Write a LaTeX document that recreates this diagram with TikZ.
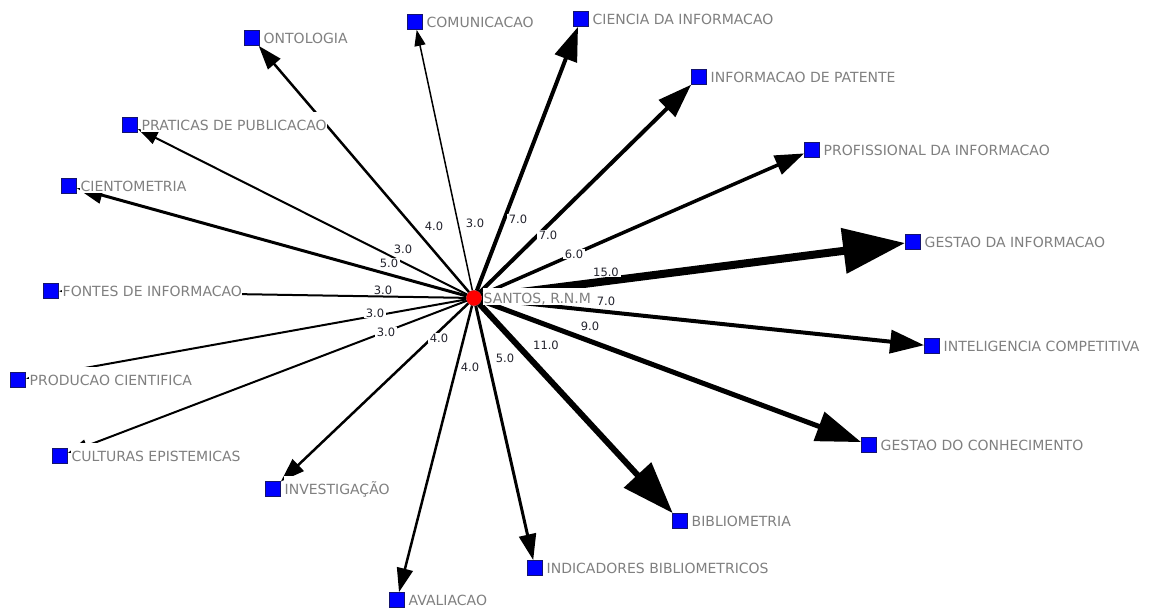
\documentclass[tikz,border=0pt]{standalone}
\usepackage{fontspec}
\setmainfont{DejaVu Sans}
\usetikzlibrary{arrows.meta}
\pgfdeclarelayer{bg}
\pgfdeclarelayer{fg}
\pgfsetlayers{bg,main,fg}
\definecolor{labgray}{RGB}{128,128,128}
\definecolor{wcol}{RGB}{35,35,45}
\definecolor{sqborder}{RGB}{20,20,110}
\tikzset{
  sq/.style={rectangle, draw=sqborder, fill=blue, minimum size=15pt, inner sep=0pt, line width=0.7pt},
  hub/.style={circle, fill=red, draw=red!80!black, line width=0.4pt, minimum size=15pt, inner sep=0pt},
  lab/.style={anchor=base west, text=labgray, fill=white, inner xsep=0.5pt, inner ysep=0pt,
    text height=18pt, text depth=2pt, font=\fontsize{14pt}{16pt}\selectfont},
  hublab/.style={lab, text height=15pt},
  wl/.style={text=wcol, fill=white, inner xsep=2pt, inner ysep=1pt, font=\fontsize{11.5pt}{13pt}\selectfont},
  wa/.style={line width=1.5pt, -{Triangle[length=16pt,width=11pt]}},
  wb/.style={line width=2pt, -{Triangle[length=20pt,width=13pt]}},
  wc/.style={line width=2.5pt, -{Triangle[length=24pt,width=16pt]}},
  wd/.style={line width=3pt, -{Triangle[length=26pt,width=17pt]}},
  we/.style={line width=3.5pt, -{Triangle[length=29pt,width=20pt]}},
  wf/.style={line width=4pt, -{Triangle[length=34pt,width=23pt]}},
  wg/.style={line width=5pt, -{Triangle[length=45pt,width=30pt]}},
  wh/.style={line width=6pt, -{Triangle[length=52pt,width=36pt]}},
  wi/.style={line width=8pt, -{Triangle[length=62pt,width=44pt]}},
}
\begin{document}
\begin{tikzpicture}[x=1pt, y=-1pt]
\useasboundingbox (0,0) rectangle (1159,608);

\begin{pgfonlayer}{fg}
\node[hub] (c) at (474,298) {};
\node[sq] (ont) at (252,38) {};
\node[sq] (com) at (415,22) {};
\node[sq] (cie) at (581,19) {};
\node[sq] (pat) at (699,77) {};
\node[sq] (pro) at (812,150) {};
\node[sq] (gdi) at (913,242) {};
\node[sq] (int) at (932,346) {};
\node[sq] (gdc) at (869,445) {};
\node[sq] (bib) at (680,521) {};
\node[sq] (ind) at (535,568) {};
\node[sq] (ava) at (397,600) {};
\node[sq] (inv) at (273,489) {};
\node[sq] (cul) at (60,456) {};
\node[sq] (pc) at (18,380) {};
\node[sq] (fon) at (51,291) {};
\node[sq] (cien) at (69,186) {};
\node[sq] (pra) at (130,125) {};
\end{pgfonlayer}

\begin{pgfonlayer}{bg}
\fill[white] (0,0) rectangle (1159,608);
\draw[wc] (c) -- (ont);
\draw[wa] (c) -- (com);
\draw[wf] (c) -- (cie);
\draw[wf] (c) -- (pat);
\draw[we] (c) -- (pro);
\draw[wi] (c) -- (gdi);
\draw[wf] (c) -- (int);
\draw[wg] (c) -- (gdc);
\draw[wh] (c) -- (bib);
\draw[wd] (c) -- (ind);
\draw[wc] (c) -- (ava);
\draw[wc] (c) -- (inv);
\draw[wb] (c) -- (cul);
\draw[wb] (c) -- (pc);
\draw[wb] (c) -- (fon);
\draw[wd] (c) -- (cien);
\draw[wb] (c) -- (pra);
\end{pgfonlayer}

% edge weights
\node[wl] (eont) at (434,226) {4.0};
\node[wl] (ecom) at (475,223) {3.0};
\node[wl] (ecie) at (518,219) {7.0};
\node[wl] (epat) at (548,235) {7.0};
\node[wl] (epro) at (574,254) {6.0};
\node[wl] (egdi) at (606,272) {15.0};
\node[wl] (eint) at (606,301) {7.0};
\node[wl] (egdc) at (590,326) {9.0};
\node[wl] (ebib) at (546,345) {11.0};
\node[wl] (eind) at (505,358) {5.0};
\node[wl] (eava) at (470,367) {4.0};
\node[wl] (einv) at (439,338) {4.0};
\node[wl] (ecul) at (386,332) {3.0};
\node[wl] (epc) at (375,313) {3.0};
\node[wl] (efon) at (383,290) {3.0};
\node[wl] (ecien) at (389,263) {5.0};
\node[wl] (epra) at (403,249) {3.0};

% node labels
\node[hublab] (cL) at ([shift={(9,5)}]c.center) {SANTOS, R.N.M};
\node[lab] (ontL) at ([shift={(11,5)}]ont.center) {ONTOLOGIA};
\node[lab] (comL) at ([shift={(11,5)}]com.center) {COMUNICACAO};
\node[lab] (cieL) at ([shift={(11,5)}]cie.center) {CIENCIA DA INFORMACAO};
\node[lab] (patL) at ([shift={(11,5)}]pat.center) {INFORMACAO DE PATENTE};
\node[lab] (proL) at ([shift={(11,5)}]pro.center) {PROFISSIONAL DA INFORMACAO};
\node[lab] (gdiL) at ([shift={(11,5)}]gdi.center) {GESTAO DA INFORMACAO};
\node[lab] (intL) at ([shift={(11,5)}]int.center) {INTELIGENCIA COMPETITIVA};
\node[lab] (gdcL) at ([shift={(11,5)}]gdc.center) {GESTAO DO CONHECIMENTO};
\node[lab] (bibL) at ([shift={(11,5)}]bib.center) {BIBLIOMETRIA};
\node[lab] (indL) at ([shift={(11,5)}]ind.center) {INDICADORES BIBLIOMETRICOS};
\node[lab] (avaL) at ([shift={(11,5)}]ava.center) {AVALIACAO};
\node[lab] (invL) at ([shift={(11,5)}]inv.center) {INVESTIGAÇÃO};
\node[lab] (culL) at ([shift={(11,5)}]cul.center) {CULTURAS EPISTEMICAS};
\node[lab] (pcL) at ([shift={(11,5)}]pc.center) {PRODUCAO CIENTIFICA};
\node[lab] (fonL) at ([shift={(11,5)}]fon.center) {FONTES DE INFORMACAO};
\node[lab] (cienL) at ([shift={(11,5)}]cien.center) {CIENTOMETRIA};
\node[lab] (praL) at ([shift={(11,5)}]pra.center) {PRATICAS DE PUBLICACAO};
\end{tikzpicture}
\end{document}
